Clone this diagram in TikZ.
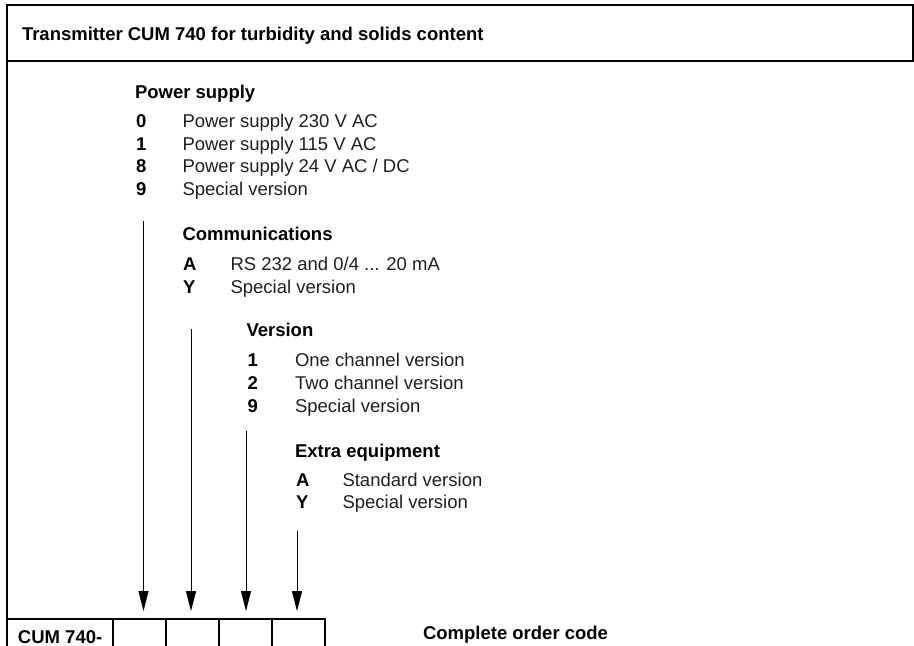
\documentclass[tikz,border=0pt]{standalone}
\usepackage{fontspec}
\setmainfont{Liberation Sans}
\usetikzlibrary{arrows.meta}
\begin{document}
\begin{tikzpicture}[x=0.5pt,y=-0.5pt,
  every node/.style={inner sep=0pt, outer sep=0pt, anchor=base west,
    font=\fontsize{9.25pt}{11pt}\selectfont},
  head/.style={font=\fontsize{9.25pt}{11pt}\selectfont\bfseries},
  code/.style={font=\fontsize{9.25pt}{11pt}\selectfont\bfseries},
  item/.style={font=\fontsize{9.25pt}{11pt}\selectfont, text=black!88},
  frame/.style={line width=0.75pt},
  cell/.style={draw, line width=0.75pt, anchor=north west, minimum width=26.5pt, minimum height=25pt},
  arr/.style={line width=0.5pt, -{Triangle[length=10pt,width=5pt]}}]
\useasboundingbox (0,0) rectangle (914,645);
\clip (0,0) rectangle (914,645);

% title box and frame
\draw[frame] (7,5) rectangle (913,61);
\draw[frame] (7,61) -- (7,680);
\node[head] (title) at (22,40.5) {Transmitter CUM 740 for turbidity and solids content};

% Power supply
\node[head] (hp) at (135,98) {Power supply};
\node[code] (p0) at (136,127.5) {0}; \node[item] (tp0) at (182.5,127.5) {Power supply 230 V AC};
\node[code] (p1) at (136,150) {1};   \node[item] (tp1) at (182.5,150) {Power supply 115 V AC};
\node[code] (p8) at (136,172.5) {8}; \node[item] (tp8) at (182.5,172.5) {Power supply 24 V AC / DC};
\node[code] (p9) at (136,195) {9};   \node[item] (tp9) at (182.5,195) {Special version};

% Communications
\node[head] (hc) at (182.5,240) {Communications};
\node[code] (cA) at (183,270.5) {A}; \node[item] (tcA) at (230.5,270.5) {RS 232 and 0/4 ... 20 mA};
\node[code] (cY) at (183,293) {Y};   \node[item] (tcY) at (230.5,293) {Special version};

% Version
\node[head] (hv) at (246.5,336.5) {Version};
\node[code] (v1) at (247.5,366.5) {1}; \node[item] (tv1) at (295,366.5) {One channel version};
\node[code] (v2) at (247.5,389.5) {2}; \node[item] (tv2) at (295,389.5) {Two channel version};
\node[code] (v9) at (247.5,412) {9};   \node[item] (tv9) at (295,412) {Special version};

% Extra equipment
\node[head] (he) at (295,457) {Extra equipment};
\node[code] (eA) at (296,486) {A};   \node[item] (teA) at (342.5,486) {Standard version};
\node[code] (eY) at (296,508.5) {Y}; \node[item] (teY) at (342.5,508.5) {Special version};

% order code table
\node[cell, minimum width=53pt] (c0) at (7,619) {};
\node[cell] (c1) at (113,619) {};
\node[cell] (c2) at (166,619) {};
\node[cell] (c3) at (219,619) {};
\node[cell] (c4) at (272,619) {};
\node[code] (cum) at (18,643) {CUM 740-};
\node[code] (coc) at (423,639) {Complete order code};

% arrows
\coordinate (s1) at (143.5,221);   \coordinate (t1) at (143.5,611);
\coordinate (s2) at (191,329);     \coordinate (t2) at (191,611);
\coordinate (s3) at (246,430.5);   \coordinate (t3) at (246,611);
\coordinate (s4) at (297,530.5);   \coordinate (t4) at (297,611);
\draw[arr] (s1) -- (t1);
\draw[arr] (s2) -- (t2);
\draw[arr] (s3) -- (t3);
\draw[arr] (s4) -- (t4);
\end{tikzpicture}
\end{document}
